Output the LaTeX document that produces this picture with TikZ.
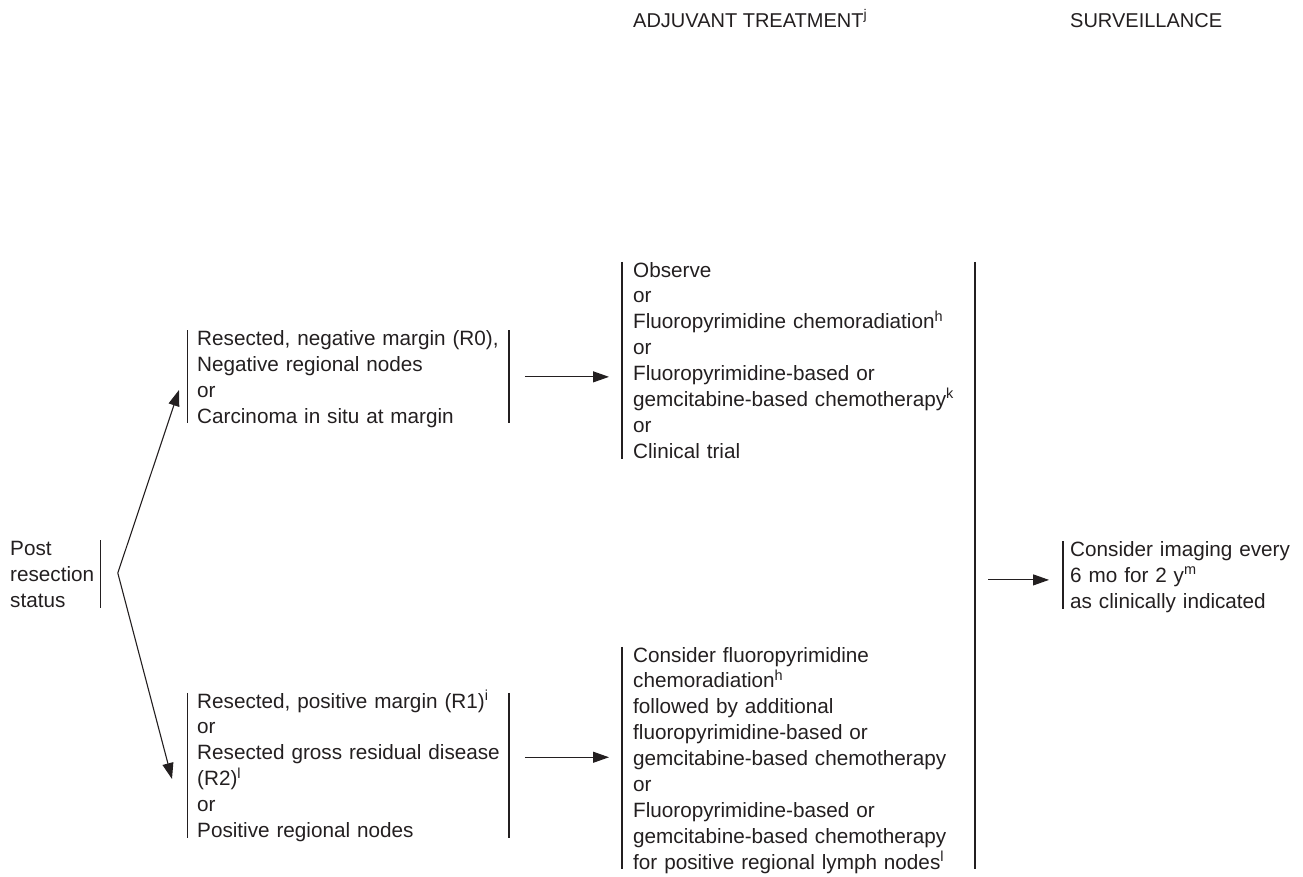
\documentclass[tikz,border=0pt]{standalone}
\usepackage{fontspec}
\setmainfont{Liberation Sans}
\usetikzlibrary{arrows.meta,calc}
\definecolor{ink}{RGB}{35,31,32}
\begin{document}
\begin{tikzpicture}[x=1pt,y=-1pt,
  every node/.style={text=ink},
  body/.style={font=\fontsize{20.7}{25.9}\selectfont, align=left,
    anchor=base west, inner ysep=0pt, text height=15pt},
  head/.style={font=\fontsize{20}{24}\selectfont, anchor=base west, inner sep=0pt},
  bar/.style={draw=ink, line width=1.2pt},
  arr/.style={draw=ink, line width=1.1pt, -{Triangle[length=16pt,width=11pt]}},
]
\useasboundingbox (0,0) rectangle (1303,876);

% column headings
\node[head] (hadj) at (633,27) {ADJUVANT TREATMENT\textsuperscript{j}};
\node[head] (hsurv) at (1070,27) {SURVEILLANCE};

% text blocks (text depth = distance from first to last baseline)
\node[body, inner xsep=5pt, text width=85pt, text depth=51.8pt] (post) at (5,555.5)
  {Post\\resection\\status};
\node[body, inner xsep=9.5pt, text width=302pt, text depth=77.7pt] (r0) at (187.5,345.5)
  {\mbox{Resected, negative margin (R0),}\\Negative regional nodes\\or\\Carcinoma in situ at margin};
\node[body, inner xsep=9.5pt, text width=302pt, text depth=129.5pt] (r1) at (187.5,708)
  {Resected, positive margin (R1)\textsuperscript{i}\\or\\\mbox{Resected gross residual disease}\\(R2)\textsuperscript{l}\\or\\Positive regional nodes};
\node[body, inner xsep=11pt, text width=330pt, text depth=181.3pt] (adj1) at (622,277)
  {Observe\\or\\Fluoropyrimidine chemoradiation\textsuperscript{h}\\or\\Fluoropyrimidine-based or\\gemcitabine-based chemotherapy\textsuperscript{k}\\or\\Clinical trial};
\node[body, inner xsep=11pt, text width=330pt, text depth=207.2pt] (adj2) at (622,662)
  {Consider fluoropyrimidine\\chemoradiation\textsuperscript{h}\\followed by additional\\fluoropyrimidine-based or\\gemcitabine-based chemotherapy\\or\\Fluoropyrimidine-based or\\gemcitabine-based chemotherapy\\for positive regional lymph nodes\textsuperscript{l}};
\node[body, inner xsep=7pt, text width=228pt, text depth=51.8pt] (surv) at (1063,556.5)
  {Consider imaging every\\6 mo for 2 y\textsuperscript{m}\\as clinically indicated};

% brackets beside the blocks
\draw[bar] (post.north east) -- (post.south east);
\draw[bar] (r0.north west) -- (r0.south west);
\draw[bar] (r0.north east) -- (r0.south east);
\draw[bar] (r1.north west) -- (r1.south west);
\draw[bar] (r1.north east) -- (r1.south east);
\draw[bar] (adj1.north west) -- (adj1.south west);
\draw[bar] (adj2.north west) -- (adj2.south west);
\draw[bar] (surv.north west) -- (surv.south west);

% common bracket closing both treatment columns
\coordinate (join) at (975,0);
\draw[bar] (adj1.north -| join) -- (adj2.south -| join);

% branching from the resection status
\coordinate (fork) at (117.8,573);
\coordinate (r0in) at (179,390);
\coordinate (r1in) at (172,779);
\draw[arr] (fork) -- (r0in);
\draw[arr] (fork) -- (r1in);

% flow to treatment and surveillance
\draw[arr] ($(r0.east)+(16,0)$) -- ($(r0.east -| adj1.west)+(-13,0)$);
\draw[arr] ($(r1.east)+(16,-8)$) -- ($(r1.east -| adj2.west)+(-13,-8)$);
\draw[arr] ($(surv.west -| join)+(13,5)$) -- ($(surv.west)+(-14,5)$);
\end{tikzpicture}
\end{document}
